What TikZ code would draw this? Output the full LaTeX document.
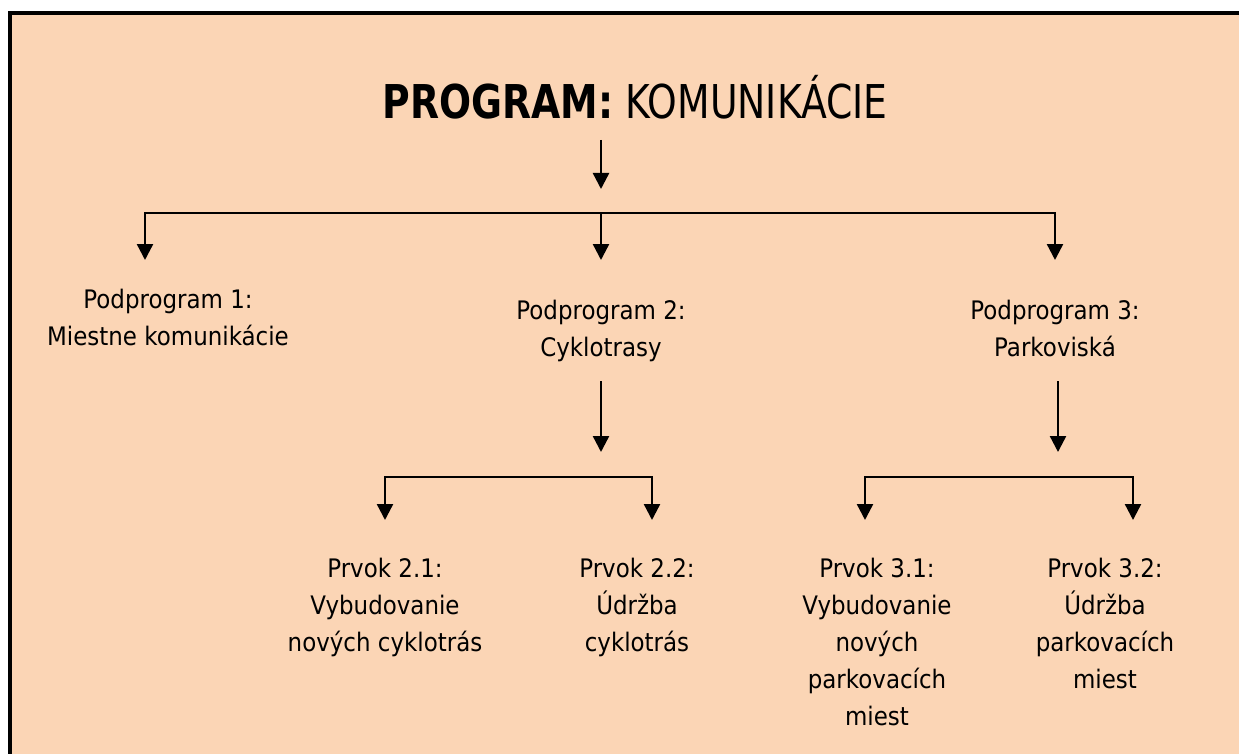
\documentclass[tikz,border=0pt]{standalone}
\usepackage{fontspec}
\setmainfont{DejaVu Sans}[FakeStretch=0.9]
\newfontfamily\titlefont{DejaVu Sans}[FakeStretch=0.81]
\usetikzlibrary{arrows.meta}
\definecolor{peach}{HTML}{FBD5B5}
\tikzset{
  conn/.style={line width=2.4pt, -{Triangle[width=16pt,length=16pt]}},
  lbl/.style={align=center, inner sep=0pt, anchor=base,
    font=\fontsize{25.5}{37}\selectfont},
  heading/.style={inner sep=0pt, anchor=base,
    font=\titlefont\fontsize{46.6}{56}\selectfont}
}
\begin{document}
\begin{tikzpicture}[x=1pt,y=-1pt]
  % page, panel and its top/left rule
  \useasboundingbox (0,0) rectangle (1239,754);
  \fill[white] (0,0) rectangle (1239,754);
  \fill[peach] (8,11) rectangle (1239,754);
  \fill[black] (8,11) rectangle (1239,15);
  \fill[black] (8,11) rectangle (12,754);

  % title
  \node[heading] (title) at (635,119) {\textbf{PROGRAM:} KOMUNIKÁCIE};

  % sub-programmes (anchored at the baseline of their last line)
  \node[lbl] (sub1) at (168,345) {Podprogram 1:\\Miestne komunikácie};
  \node[lbl] (sub2) at (601,356) {Podprogram 2:\\Cyklotrasy};
  \node[lbl] (sub3) at (1055,356) {Podprogram 3:\\Parkoviská};

  % elements (anchored at the baseline of their last line)
  \node[lbl] (p21) at (385,651) {Prvok 2.1:\\Vybudovanie\\nových cyklotrás};
  \node[lbl] (p22) at (637,651) {Prvok 2.2:\\Údržba\\cyklotrás};
  \node[lbl] (p31) at (877,725) {Prvok 3.1:\\Vybudovanie\\nových\\parkovacích\\miest};
  \node[lbl] (p32) at (1105,688) {Prvok 3.2:\\Údržba\\parkovacích\\miest};

  % connector points
  \coordinate (t0) at (601,140);
  \coordinate (t1) at (601,189);
  \coordinate (bar1) at (601,213);
  \coordinate (d1) at (145,260);
  \coordinate (d2) at (601,260);
  \coordinate (d3) at (1055,260);

  \coordinate (s2a) at (601,381);
  \coordinate (s2b) at (601,452);
  \coordinate (bar2) at (518,477);
  \coordinate (d21) at (385,520);
  \coordinate (d22) at (652,520);

  \coordinate (s3a) at (1058,381);
  \coordinate (s3b) at (1058,452);
  \coordinate (bar3) at (999,477);
  \coordinate (d31) at (865,520);
  \coordinate (d32) at (1133,520);

  % first level
  \draw[conn] (t0) -- (t1);
  \draw[conn] (bar1) -| (d1);
  \draw[conn] (bar1) -- (d2);
  \draw[conn] (bar1) -| (d3);

  % second level
  \draw[conn] (s2a) -- (s2b);
  \draw[conn] (bar2) -| (d21);
  \draw[conn] (bar2) -| (d22);
  \draw[conn] (s3a) -- (s3b);
  \draw[conn] (bar3) -| (d31);
  \draw[conn] (bar3) -| (d32);
\end{tikzpicture}
\end{document}
